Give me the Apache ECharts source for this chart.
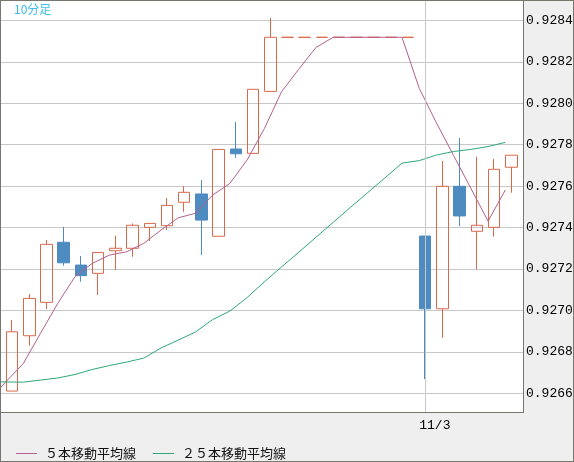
<!DOCTYPE html>
<html>
<head>
<meta charset="utf-8">
<script src="https://cdn.jsdelivr.net/npm/echarts@6/dist/echarts.min.js"></script>
<style>
html,body{margin:0;padding:0;background:#efefef;}
#chart{width:574px;height:462px;}
</style>
</head>
<body>
<div id="chart"></div>
<script>
// ---- data ----
const categories = ['', '', '', '', '', '', '', '', '', '', '', '', '', '', '', '', '', '', '', '', '', '', '', '', '11/3', '', '', '', '', ''];
const opens  = [0.926611, 0.926878, 0.927039, 0.927329, 0.927219, 0.927179, 0.927288, 0.927300, 0.927401, 0.927409,
                0.927522, 0.927562, 0.927358, 0.927779, 0.927758, 0.928057, 0.928318, 0.928318, 0.928318, 0.928318,
                0.928318, 0.928318, 0.928318, 0.928318, 0.927359, 0.927008, 0.927599, 0.927382, 0.927401, 0.927691];
const closes = [0.926897, 0.927058, 0.927319, 0.927230, 0.927168, 0.927280, 0.927300, 0.927411, 0.927420, 0.927507,
                0.927570, 0.927436, 0.927777, 0.927756, 0.928067, 0.928318, 0.928318, 0.928318, 0.928318, 0.928318,
                0.928318, 0.928318, 0.928318, 0.928318, 0.927008, 0.927599, 0.927456, 0.927411, 0.927681, 0.927749];
const lows   = [0.926611, 0.926830, 0.927007, 0.927216, 0.927139, 0.927074, 0.927195, 0.927259, 0.927335, 0.927388,
                0.927476, 0.927267, 0.927358, 0.927737, 0.927758, 0.928057, 0.928318, 0.928318, 0.928318, 0.928318,
                0.928318, 0.928318, 0.928318, 0.928318, 0.926669, 0.926868, 0.927407, 0.927198, 0.927356, 0.927568];
const highs  = [0.926954, 0.927079, 0.927340, 0.927403, 0.927263, 0.927280, 0.927361, 0.927420, 0.927420, 0.927542,
                0.927600, 0.927629, 0.927777, 0.927909, 0.928067, 0.928411, 0.928318, 0.928318, 0.928318, 0.928318,
                0.928318, 0.928318, 0.928318, 0.928318, 0.927359, 0.927721, 0.927832, 0.927742, 0.927731, 0.927749];
// moving averages: first value belongs to the bar just before the visible range
const ma5  = [0.926565, 0.926657, 0.926744, 0.926890, 0.927034, 0.927163, 0.927227, 0.927267, 0.927283, 0.927324,
              0.927388, 0.927447, 0.927469, 0.927557, 0.927613, 0.927726, 0.927877, 0.928055, 0.928164, 0.928269,
              0.928318, 0.928318, 0.928318, 0.928318, 0.928318, 0.928072, 0.927905, 0.927747, 0.927589, 0.927431, 0.927581];
const ma25 = [0.926657, 0.926655, 0.926654, 0.926664, 0.926674, 0.926691, 0.926715, 0.926734, 0.926751, 0.926770,
              0.926819, 0.926857, 0.926896, 0.926956, 0.926997, 0.927062, 0.927138, 0.927210, 0.927281, 0.927353,
              0.927425, 0.927497, 0.927568, 0.927639, 0.927711, 0.927723, 0.927750, 0.927767, 0.927777, 0.927791, 0.927811];
const seriesNames = ['５本移動平均線', '２５本移動平均線'];
const chartTitle = '10分足';
const yMin = 0.92651;
const yMax = 0.928498;

// ---- chart ----
const candleData = opens.map((o, i) => [o, closes[i], lows[i], highs[i]]);
const maCategories = [''].concat(categories);

const BORDER = '#77776f';
const UP = '#d9694b';
const DOWN = '#4d8bc0';
const C5 = '#b3608c';
const C25 = '#2ea878';

const chart = echarts.init(document.getElementById('chart'), null, {renderer: 'canvas'});
const hiddenY = (gi) => ({
  type: 'value', gridIndex: gi, min: yMin, max: yMax, show: false,
  splitLine: {show: false}
});
chart.setOption({
  animation: false,
  backgroundColor: '#efefef',
  title: {
    text: chartTitle, left: 14, top: 3, padding: 0,
    textStyle: {fontSize: 12, fontWeight: 'normal', color: '#3bbdee', fontFamily: 'Noto Sans CJK JP'}
  },
  legend: {
    data: [{name: seriesNames[0], icon: 'rect'}, {name: seriesNames[1], icon: 'rect'}],
    left: 16, top: 447, padding: 0,
    itemWidth: 21, itemHeight: 1, itemGap: 17, selectedMode: false,
    textStyle: {fontSize: 13, color: '#111', fontFamily: 'Noto Sans CJK JP', padding: [0, 0, 0, 3]}
  },
  grid: [
    {left: 1, right: 51, top: 0, bottom: 50, show: true, backgroundColor: '#ffffff', borderWidth: 0, outerBoundsMode: 'none'},
    {left: 3.49, right: 54.09, top: 0, bottom: 50, outerBoundsMode: 'none'},
    {left: -19.72, right: 60.09, top: 0, bottom: 50, outerBoundsMode: 'none'}
  ],
  xAxis: [
    {type: 'value', gridIndex: 0, show: false, min: 0, max: 1},
    {type: 'category', gridIndex: 1, data: categories, boundaryGap: true,
     axisLine: {show: false}, axisTick: {show: false}, axisLabel: {show: false}, splitLine: {show: false}},
    {type: 'category', gridIndex: 2, data: maCategories, boundaryGap: true,
     axisLine: {show: false}, axisTick: {show: false}, splitLine: {show: false},
     axisLabel: {show: true, interval: 0, align: 'left', margin: 7, fontSize: 13,
                 fontFamily: 'Liberation Mono', color: '#000'}}
  ],
  yAxis: [
    {type: 'value', gridIndex: 0, position: 'right', min: yMin, max: yMax, splitNumber: 10,
     axisLine: {show: false}, axisTick: {show: false},
     axisLabel: {show: true, margin: 3, fontSize: 13, fontFamily: 'Liberation Mono', color: '#000',
                 showMinLabel: false, showMaxLabel: false,
                 formatter: v => v.toFixed(4)},
     splitLine: {show: true, lineStyle: {color: '#c8c8c8', width: 1}}},
    hiddenY(1),
    hiddenY(2)
  ],
  series: [
    {
      type: 'line', xAxisIndex: 1, yAxisIndex: 1, data: [], z: 1, silent: true,
      markLine: {
        silent: true, symbol: ['none', 'none'], label: {show: false},
        lineStyle: {color: '#c8c8c8', width: 1, type: 'solid'},
        emphasis: {disabled: true},
        data: [{xAxis: '11/3'}]
      }
    },
    {
      type: 'candlestick', xAxisIndex: 1, yAxisIndex: 1, data: candleData, barWidth: 12, z: 2,
      itemStyle: {color: 'transparent', color0: DOWN, borderColor: UP, borderColor0: DOWN, borderWidth: 1},
      emphasis: {disabled: true}
    },
    {
      name: seriesNames[0], type: 'line', xAxisIndex: 2, yAxisIndex: 2, data: ma5, z: 3,
      symbol: 'none', showSymbol: false, smooth: false,
      lineStyle: {color: C5, width: 1}, itemStyle: {color: C5}
    },
    {
      name: seriesNames[1], type: 'line', xAxisIndex: 2, yAxisIndex: 2, data: ma25, z: 3,
      symbol: 'none', showSymbol: false, smooth: false,
      lineStyle: {color: C25, width: 1}, itemStyle: {color: C25}
    }
  ],
  graphic: [
    {type: 'rect', z: 100, silent: true, shape: {x: 0, y: 0, width: 574, height: 1}, style: {fill: BORDER}},
    {type: 'rect', z: 100, silent: true, shape: {x: 0, y: 0, width: 1, height: 462}, style: {fill: BORDER}},
    {type: 'rect', z: 100, silent: true, shape: {x: 573, y: 0, width: 1, height: 462}, style: {fill: BORDER}},
    {type: 'rect', z: 100, silent: true, shape: {x: 0, y: 461, width: 574, height: 1}, style: {fill: BORDER}},
    {type: 'rect', z: 100, silent: true, shape: {x: 523, y: 0, width: 1, height: 413}, style: {fill: BORDER}},
    {type: 'rect', z: 100, silent: true, shape: {x: 0, y: 412, width: 524, height: 1}, style: {fill: BORDER}}
  ]
});
</script>
</body>
</html>
